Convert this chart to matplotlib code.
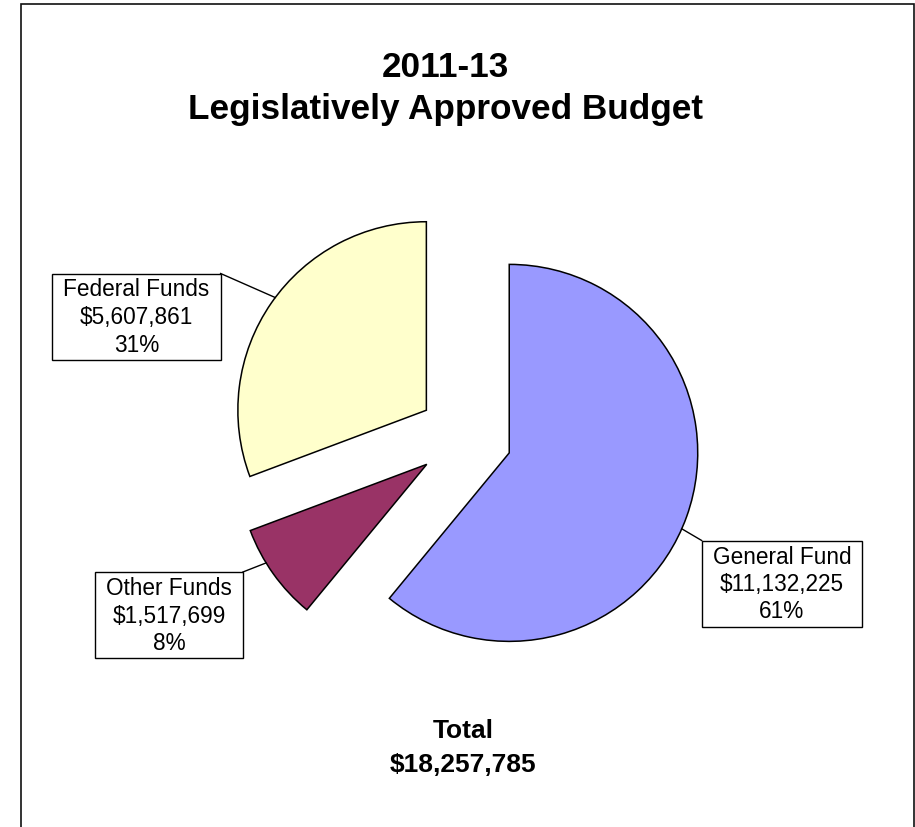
import numpy as np
import matplotlib
matplotlib.use("Agg")
import matplotlib.pyplot as plt
from matplotlib.patches import Rectangle

# Budget by fund type, 2011-13 biennium
funds = ["General Fund", "Other Funds", "Federal Funds"]
amounts = [11132225, 1517699, 5607861]
colors = ["#9999FF", "#993366", "#FFFFCC"]

title_lines = ["2011-13", "Legislatively Approved Budget"]

plt.rcParams["font.family"] = ["Liberation Sans", "DejaVu Sans"]

W, H = 915, 828
fig = plt.figure(figsize=(W / 100, H / 100), dpi=100)
ax = fig.add_axes([0, 0, 1, 1])

# outer chart frame
fig.patches.append(Rectangle((20.5 / W, -0.05), 893 / W, (H - 5) / H + 0.05,
                             transform=fig.transFigure, fill=False,
                             edgecolor="#111111", linewidth=1.2))

total = sum(amounts)
radius = 188.5
center = (465, H - 438)

wedges, _ = ax.pie(amounts, colors=colors, startangle=90, counterclock=False,
                   radius=radius, center=center, explode=[47, 47, 47],
                   wedgeprops=dict(edgecolor="black", linewidth=1.1),
                   frame=True)
ax.set_xlim(0, W)
ax.set_ylim(0, H)
ax.set_aspect("equal")
ax.axis("off")

# label boxes: text centre (pixels from top-left), box corner used by leader, angle tweak
label_pos = {
    "General Fund": ((782, 584.5), (0, 1), -4),
    "Other Funds": ((169, 616), (1, 1), -4),
    "Federal Funds": ((136.5, 317.5), (1, 1), -2),
}
pad_x, pad_y = 11, 4

renderer = fig.canvas.get_renderer()
for w, name, amt in zip(wedges, funds, amounts):
    pct = amt / total * 100
    text = f"{name}\n${amt:,}\n{pct:.0f}%"
    (tx, ty), (rx, ry), dang = label_pos[name]
    t = ax.text(tx, H - ty, text, ha="center", va="center",
                multialignment="center", fontsize=16.3, linespacing=1.25,
                zorder=5)
    bb = t.get_window_extent(renderer)
    x0, y0 = bb.x0 - pad_x, bb.y0 - pad_y
    bw, bh = bb.width + 2 * pad_x, bb.height + 2 * pad_y
    ax.add_patch(Rectangle((x0, y0), bw, bh, facecolor="white",
                           edgecolor="black", linewidth=1.0, zorder=4))
    mid = np.deg2rad((w.theta1 + w.theta2) / 2 + dang)
    cx, cy = w.center
    ax.plot([x0 + rx * bw, cx + w.r * np.cos(mid)],
            [y0 + ry * bh, cy + w.r * np.sin(mid)],
            color="black", linewidth=1.0, zorder=3)

# title
fig.text(445 / W, 1 - 77.4 / H, title_lines[0], ha="center", va="baseline",
         fontsize=25.3, fontweight="bold")
fig.text(445 / W, 1 - 119 / H, title_lines[1], ha="center", va="baseline",
         fontsize=25.3, fontweight="bold")

# total
fig.text(463 / W, 1 - 738 / H, "Total", ha="center", va="baseline",
         fontsize=19, fontweight="bold")
fig.text(463 / W, 1 - 771.7 / H, f"${total:,}", ha="center", va="baseline",
         fontsize=19, fontweight="bold")

fig.savefig("out.png", dpi=100, facecolor="white")
